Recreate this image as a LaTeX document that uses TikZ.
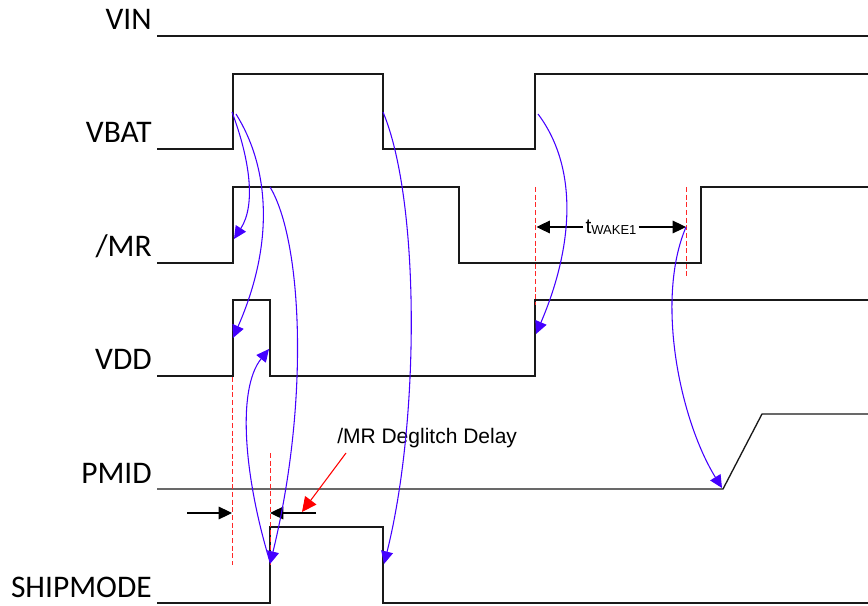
\documentclass[tikz,border=0pt]{standalone}
\usepackage{fontspec}
\setmainfont{Liberation Sans}
\newfontfamily\calib{Carlito}
\usetikzlibrary{arrows.meta}
\definecolor{arrblue}{RGB}{68,0,255}
\definecolor{sig}{RGB}{25,25,25}
\definecolor{dashred}{RGB}{255,40,40}
\begin{document}
\begin{tikzpicture}[x=0.75pt,y=-0.75pt,
  signal/.style={draw=sig,line width=1pt},
  lbl/.style={anchor=base east,inner sep=0pt,font=\calib\fontsize{23.6}{28}\selectfont},
  cause/.style={draw=arrblue,line width=0.8pt,-{Triangle[length=9.5pt,width=9pt]}},
  marker/.style={draw=dashred,line width=0.8pt,dash pattern=on 3.75pt off 2pt},
  dim/.style={draw=black,line width=0.8pt,-{Triangle[length=10pt,width=9.5pt]}},
  redarrow/.style={draw=red,line width=0.8pt,-{Triangle[length=11pt,width=10.5pt]}},
]
\useasboundingbox (0,0) rectangle (868,606);

% signal labels
\node[lbl] (lvin)  at (152,29.5)  {VIN};
\node[lbl] (lvbat) at (152,143)   {VBAT};
\node[lbl] (lmr)   at (152,257)   {/MR};
\node[lbl] (lvdd)  at (152,369.5) {VDD};
\node[lbl] (lpmid) at (152,483)   {PMID};
\node[lbl] (lship) at (152,597)   {SHIPMODE};

% waveforms
\draw[signal] (157,36) -- (868,36);
\draw[signal] (157,149) -- (233,149) -- (233,74) -- (383,74) -- (383,149) -- (535,149) -- (535,74) -- (868,74);
\draw[signal] (157,263) -- (233,263) -- (233,187) -- (459,187) -- (459,263) -- (701,263) -- (701,187) -- (868,187);
\draw[signal] (157,376) -- (233,376) -- (233,300) -- (270,300) -- (270,376) -- (535,376) -- (535,300) -- (868,300);
\draw[signal] (157,489) -- (723,489) -- (762,414) -- (868,414);
\draw[signal] (157,603) -- (270,603) -- (270,527) -- (383,527) -- (383,603) -- (868,603);

% red dashed markers
\coordinate (m1t) at (232.5,377); \coordinate (m1b) at (232.5,565);
\coordinate (m2t) at (270.5,453); \coordinate (m2b) at (270.5,565);
\coordinate (m3t) at (535.5,187); \coordinate (m3b) at (535.5,305);
\coordinate (m4t) at (686.5,187); \coordinate (m4b) at (686.5,277);
\draw[marker] (m1t) -- (m1b);
\draw[marker] (m2t) -- (m2b);
\draw[marker] (m3t) -- (m3b);
\draw[marker] (m4t) -- (m4b);

% tWAKE1 dimension
\node[inner xsep=1.5pt,inner ysep=0pt,anchor=base] (tw) at (611,233.5)
  {{\fontsize{15.75}{19}\selectfont t}{\fontsize{9.75}{12}\selectfont\raisebox{-0.8pt}{WAKE1}}};
\coordinate (twl) at (536.5,227);
\coordinate (twr) at (686,227);
\draw[dim] (tw.west |- twl) -- (twl);
\draw[dim] (tw.east |- twr) -- (twr);

% deglitch dimension
\coordinate (d1s) at (187,513); \coordinate (d1e) at (232,513);
\coordinate (d2s) at (316,513); \coordinate (d2e) at (270,513);
\draw[dim] (d1s) -- (d1e);
\draw[dim] (d2s) -- (d2e);
\node[anchor=base west,inner sep=0pt,font=\fontsize{15.75}{19}\selectfont] (dgl) at (337,443) {/MR Deglitch Delay};
\coordinate (rs) at (346,453); \coordinate (re) at (302,512);
\draw[redarrow] (rs) -- (re);

% cause-effect curves
\coordinate (c1s) at (232,112); \coordinate (c1e) at (234,239);
\coordinate (c2s) at (236,114); \coordinate (c2e) at (233,338);
\coordinate (c3s) at (270,562); \coordinate (c3e) at (269,349);
\coordinate (c4s) at (270,187); \coordinate (c4e) at (270,564);
\coordinate (c5s) at (383,112); \coordinate (c5e) at (384,564);
\coordinate (c6s) at (538,114); \coordinate (c6e) at (536,334);
\coordinate (c7s) at (686,227); \coordinate (c7e) at (722,488);
\draw[cause] (c1s) .. controls (250,160) and (256,205) .. (c1e);
\draw[cause] (c2s) .. controls (268,165) and (276,240) .. (c2e);
\draw[cause] (c3s) .. controls (245,480) and (236,390) .. (c3e);
\draw[cause] (c4s) .. controls (302,240) and (310,400) .. (c4e);
\draw[cause] (c5s) .. controls (420,200) and (420,420) .. (c5e);
\draw[cause] (c6s) .. controls (580,170) and (572,250) .. (c6e);
\draw[cause] (c7s) .. controls (655,300) and (680,420) .. (c7e);
\end{tikzpicture}
\end{document}
